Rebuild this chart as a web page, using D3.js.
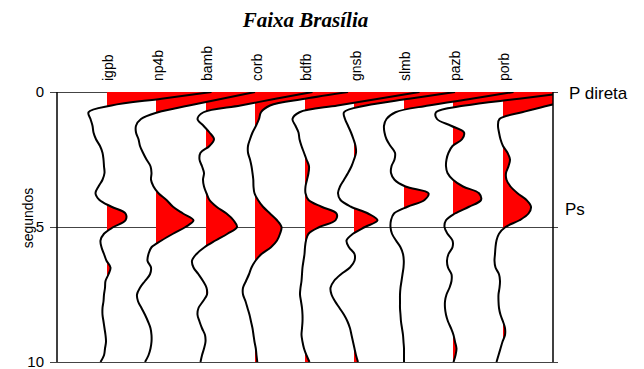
<!DOCTYPE html>
<html>
<head>
<meta charset="utf-8">
<script src="https://cdn.jsdelivr.net/npm/d3@7"></script>
<style>
  html, body { margin: 0; padding: 0; background: #fff; }
  svg { display: block; }
  text { font-family: "Liberation Sans", Arial, Helvetica, sans-serif; fill: #000; }
</style>
</head>
<body>
<svg id="chart" width="644" height="369"></svg>
<script>
// Receiver functions, Faixa Brasília stations (amplitudes sampled every 0.25 s, 0–10 s)
const stations = ["igpb", "np4b", "bamb", "corb", "bdfb", "gnsb", "slmb", "pazb", "porb"];
const timeTicks = [0, 5, 10];
const phaseLabels = ["P direta", "Ps"];
const phaseTimes = [0, 4.3];

const igpb = [1.05, 0.55, 0.05, -0.18, -0.16, -0.14, -0.13, -0.105, -0.065, -0.04, -0.03, -0.025, -0.02, -0.04, -0.08, -0.11, -0.07, 0.05, 0.19, 0.19, 0.07, -0.025, -0.06, -0.05, -0.025, 0, 0.04, 0.02, -0.01, -0.015, -0.025, -0.03, -0.04, -0.04, -0.03, -0.02, -0.01, -0.005, -0.015, -0.025, -0.06];
const np4b = [0.99, 0.66, 0.33, 0.02, -0.15, -0.20, -0.20, -0.175, -0.16, -0.13, -0.095, -0.055, -0.045, -0.05, -0.025, 0.025, 0.105, 0.17, 0.27, 0.375, 0.295, 0.17, 0.055, -0.045, -0.075, -0.085, -0.05, -0.06, -0.11, -0.16, -0.19, -0.18, -0.145, -0.11, -0.08, -0.055, -0.045, -0.045, -0.055, -0.075, -0.11];
const bamb = [1.07, 0.70, 0.35, -0.02, -0.08, -0.02, 0.04, 0.085, 0.04, -0.05, -0.06, -0.035, -0.015, -0.025, -0.015, 0.01, 0.04, 0.11, 0.21, 0.28, 0.315, 0.22, 0.10, -0.01, -0.09, -0.135, -0.12, -0.07, -0.025, 0.01, 0.015, -0.025, -0.07, -0.08, -0.06, -0.035, -0.005, 0, -0.015, -0.035, -0.05];
const corb = [0.93, 0.50, 0.15, 0.06, 0.04, 0.01, -0.025, -0.05, -0.07, -0.07, -0.05, -0.035, -0.025, -0.017, -0.015, -0.005, 0.03, 0.08, 0.15, 0.22, 0.265, 0.25, 0.22, 0.16, 0.065, 0.005, -0.035, -0.06, -0.09, -0.12, -0.12, -0.095, -0.075, -0.055, -0.04, -0.025, -0.015, -0.005, 0.008, 0.015, 0.023];
const bdfb = [1.15, 0.74, 0.33, -0.05, -0.12, -0.09, -0.06, -0.05, -0.03, -0.005, 0.02, 0.045, 0.04, 0.025, 0.01, 0.01, 0.04, 0.17, 0.32, 0.31, 0.15, 0.04, 0.015, 0.005, 0, -0.01, -0.02, -0.025, -0.03, -0.04, -0.045, -0.035, -0.025, -0.02, -0.02, -0.025, -0.03, -0.02, -0.005, 0.02, 0.05];
const gnsb = [1.01, 0.55, 0.12, -0.10, -0.09, -0.06, -0.03, -0.005, 0.015, 0.02, 0, -0.025, -0.06, -0.10, -0.14, -0.16, -0.135, -0.03, 0.14, 0.235, 0.11, -0.01, -0.075, -0.05, 0.005, 0.005, -0.04, -0.13, -0.20, -0.235, -0.225, -0.19, -0.145, -0.10, -0.065, -0.04, -0.025, -0.01, 0.005, 0.02, 0.04];
const slmb = [1.10, 0.68, 0.25, -0.08, -0.17, -0.195, -0.19, -0.17, -0.13, -0.085, -0.09, -0.12, -0.125, -0.09, 0.02, 0.25, 0.21, 0.04, -0.095, -0.125, -0.13, -0.115, -0.075, -0.03, -0.005, 0.003, 0, -0.01, -0.02, -0.03, -0.035, -0.035, -0.035, -0.03, -0.025, -0.015, -0.005, 0, 0.005, 0.005, 0.005];
const pazb = [1.20, 0.66, 0.12, -0.17, -0.16, -0.02, 0.11, 0.09, -0.005, -0.045, -0.065, -0.07, -0.055, 0, 0.10, 0.26, 0.28, 0.16, 0.02, -0.07, -0.085, -0.055, -0.005, -0.005, -0.045, -0.06, -0.05, -0.015, -0.015, -0.035, -0.065, -0.08, -0.08, -0.07, -0.05, -0.02, 0.005, 0.02, 0.035, 0.025, 0.005];
const porb = [1.00, 0.73, 0.46, 0.195, -0.03, -0.045, -0.035, -0.02, 0.005, 0.05, 0.075, 0.06, 0.035, 0.04, 0.08, 0.15, 0.24, 0.285, 0.26, 0.17, 0.03, -0.035, -0.06, -0.07, -0.075, -0.08, -0.07, -0.035, -0.025, -0.03, -0.04, -0.04, -0.035, -0.02, 0.005, 0.025, 0.025, 0, -0.02, -0.04, -0.06];

const traces = [igpb, np4b, bamb, corb, bdfb, gnsb, slmb, pazb, porb];
const dt = 0.25;

// Layout
const frame = { left: 57, right: 553, top: 92, bottom: 362 };
const svg = d3.select("#chart");

const y = d3.scaleLinear().domain([0, 10]).range([frame.top, frame.bottom]);
const xBase = d3.scalePoint().domain(stations).range([106.5, 502.5]);
const amp = d3.scaleLinear().domain([0, 1]).range([0, 100]);

// Title
svg.append("text")
  .attr("x", 305.5).attr("y", 27)
  .attr("text-anchor", "middle")
  .style("font-family", "'Liberation Serif', 'Times New Roman', serif")
  .style("font-weight", "bold").style("font-style", "italic")
  .style("font-size", "21px")
  .text("Faixa Brasília");

// Time gridlines across the section
const grid = svg.append("g").attr("transform", `translate(${frame.left},0)`)
  .call(d3.axisRight(y).tickValues(timeTicks).tickSize(558 - frame.left).tickFormat(""));
grid.select(".domain").remove();
grid.selectAll("line").attr("stroke", "#444").attr("stroke-width", 1);

// Left axis ticks and labels
const yAxis = svg.append("g").attr("transform", `translate(${frame.left},0)`)
  .call(d3.axisLeft(y).tickValues(timeTicks).tickSize(7).tickPadding(6));
yAxis.select(".domain").remove();
yAxis.selectAll("line").attr("stroke", "#444");
yAxis.selectAll("text").style("font-size", "15px").style("font-family", "'Liberation Sans', Arial, sans-serif");

svg.append("text")
  .attr("transform", `translate(33,218) rotate(-90)`)
  .attr("text-anchor", "middle")
  .style("font-size", "14px")
  .text("segundos");

// Clip regions: whole section, and the positive side of each trace
const defs = svg.append("defs");
defs.append("clipPath").attr("id", "clip-frame")
  .append("rect")
  .attr("x", frame.left).attr("y", frame.top)
  .attr("width", frame.right - frame.left).attr("height", frame.bottom - frame.top);
stations.forEach(s => {
  const cx = Math.ceil(xBase(s));
  defs.append("clipPath").attr("id", "clip-pos-" + s)
    .append("rect")
    .attr("x", cx).attr("y", frame.top)
    .attr("width", frame.right - cx).attr("height", frame.bottom - frame.top);
});

const series = stations.map((s, i) => ({
  name: s,
  points: traces[i].map((v, k) => ({ t: k * dt, a: v }))
}));

// Positive lobes filled red
const fills = svg.append("g");
series.forEach(sr => {
  const x0 = xBase(sr.name);
  const area = d3.area()
    .curve(d3.curveCatmullRom.alpha(0.5))
    .y(d => y(d.t))
    .x0(x0 - 2)
    .x1(d => x0 + amp(d.a));
  fills.append("path")
    .datum(sr.points)
    .attr("clip-path", `url(#clip-pos-${sr.name})`)
    .attr("fill", "#ff0000")
    .attr("stroke", "none")
    .attr("d", area);
});

// Wiggle traces
const lines = svg.append("g").attr("clip-path", "url(#clip-frame)");
series.forEach(sr => {
  const x0 = xBase(sr.name);
  const line = d3.line()
    .curve(d3.curveCatmullRom.alpha(0.5))
    .x(d => x0 + amp(d.a))
    .y(d => y(d.t));
  lines.append("path")
    .datum(sr.points)
    .attr("fill", "none")
    .attr("stroke", "#000")
    .attr("stroke-width", 2)
    .attr("stroke-linejoin", "round")
    .attr("d", line);
});

// Frame sides
[frame.left, frame.right].forEach(xp => {
  svg.append("line")
    .attr("x1", xp).attr("x2", xp)
    .attr("y1", frame.top).attr("y2", frame.bottom)
    .attr("stroke", "#000").attr("stroke-width", 1.5);
});

// Station names
svg.append("g").selectAll("text").data(stations).join("text")
  .attr("transform", d => `translate(${xBase(d) + 6.5},81) rotate(-90)`)
  .attr("text-anchor", "start")
  .style("font-size", "14px")
  .text(d => d);

// Phase annotations
svg.append("text").attr("x", 569).attr("y", y(phaseTimes[0]) + 6.5)
  .style("font-size", "17px").text(phaseLabels[0]);
svg.append("text").attr("x", 565).attr("y", y(phaseTimes[1]) + 6.5)
  .style("font-size", "17px").text(phaseLabels[1]);
</script>
</body>
</html>
